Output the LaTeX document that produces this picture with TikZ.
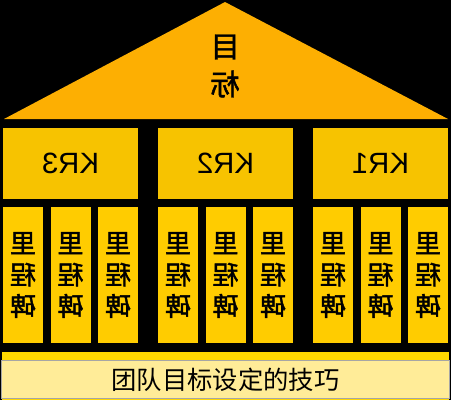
\documentclass[tikz,border=0pt]{standalone}
\usepackage{fontspec}
\setmainfont{Liberation Sans}
\newfontfamily\cjk{Noto Sans CJK SC}
\newfontfamily\cjkb[FakeBold=1.6]{Noto Sans CJK SC}
\usetikzlibrary{positioning}
\definecolor{roofcol}{HTML}{FDAF02}
\definecolor{krcol}{HTML}{F7C300}
\definecolor{stonecol}{HTML}{FFCC00}
\definecolor{basecol}{HTML}{FFD800}
\definecolor{capcol}{HTML}{FFEC98}
\tikzset{mirror/.style={xscale=-1},
  krbox/.style={rectangle,fill=krcol,inner sep=0pt,minimum width=101.25pt,minimum height=53.25pt,font=\fontsize{22}{24}\selectfont},
  stone/.style={rectangle,fill=stonecol,inner sep=0pt,minimum width=30pt,minimum height=102pt,align=center,font=\cjkb\fontsize{19.5}{23.6}\selectfont},
  goaltxt/.style={inner sep=0pt,font=\cjkb\fontsize{22}{24}\selectfont}}

\begin{document}
\begin{tikzpicture}[x=0.75pt,y=-0.75pt]
\fill[black] (0,0) rectangle (451,400);
\useasboundingbox (0,0) rectangle (451,400);

% roof
\coordinate (apex) at (225,2);
\coordinate (eaveL) at (4,119);
\coordinate (eaveR) at (448,119);
\fill[roofcol] (eaveL)--(apex)--(eaveR)--cycle;
\node[goaltxt,mirror] (goal1) at (225,47) {目};
\node[goaltxt,mirror] (goal2) at (225,84) {标};

% key results
\node[krbox,mirror] (kr3) at (70.5,163.5) {KR3};
\node[krbox,mirror] (kr2) at (225.5,163.5) {KR2};
\node[krbox,mirror] (kr1) at (380.5,163.5) {KR1};

% milestones
\foreach \g/\x in {3/3,2/158,1/313}{
  \node[stone,mirror] (ms\g a) at (\x+20,275) {里\\程\\碑};
  \node[stone,mirror] (ms\g b) at (\x+67.5,275) {里\\程\\碑};
  \node[stone,mirror] (ms\g c) at (\x+115,275) {里\\程\\碑};
}

% base and caption
\fill[basecol] (2,352) rectangle (449,400);
\node[rectangle,fill=capcol,draw=gray!70,line width=0.8pt,minimum width=336pt,minimum height=29pt,inner sep=0pt,
  font=\cjk\fontsize{19}{22}\selectfont] (caption) at (225.5,379.5) {团队目标设定的技巧};
\end{tikzpicture}
\end{document}
